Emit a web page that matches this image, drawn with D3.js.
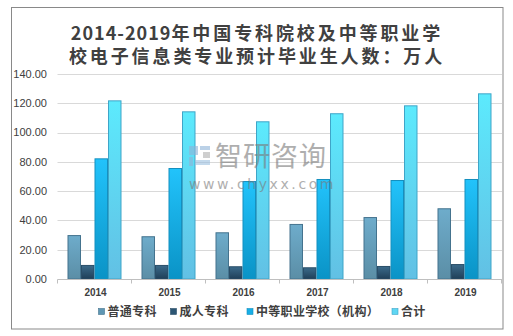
<!DOCTYPE html>
<html><head><meta charset="utf-8">
<script src="https://cdn.jsdelivr.net/npm/d3@7/dist/d3.min.js"></script>
<style>body{margin:0;background:#fff}svg{display:block}</style>
</head><body>
<svg id="c" width="513" height="336"></svg>
<script>
const years = ["2014","2015","2016","2017","2018","2019"];
const seriesNames = ["普通专科","成人专科","中等职业学校（机构）","合计"];
const putong = [30.0, 29.2, 31.9, 37.6, 42.3, 48.3];
const chengren = [9.6, 9.6, 8.7, 8.0, 8.9, 10.2];
const zhongzhi = [82.4, 75.8, 66.9, 68.3, 67.6, 68.3];
const heji = [122.0, 114.5, 107.7, 113.2, 118.6, 126.8];
const yTicks = [0,20,40,60,80,100,120,140];
const titleLine1Head = "2014-2019";
const titleLine1Tail = "年中国专科院校及中等职业学";
const titleLine2 = "校电子信息类专业预计毕业生人数：万人";

const seriesValues = [putong, chengren, zhongzhi, heji];
const grads = [
  ["#6eaccb","#5b8ea6","#44738e"],
  ["#3b6a8a","#1f3f58","#2a4e68"],
  ["#22c3fb","#0a93c6","#1590bf"],
  ["#5ceafd","#62c0e4","#3fa5c8"]
];
const legendColors = ["#5f97b4","#2c5674","#17aee6","#5fd6f3"];

const svg = d3.select("#c");
const font = "'Liberation Sans', 'Noto Sans CJK SC', sans-serif";

svg.append("rect").attr("x",11.5).attr("y",7.5).attr("width",491.5).attr("height",321.5)
  .attr("fill","none").attr("stroke","#898989").attr("stroke-width",1);

const defs = svg.append("defs");
grads.forEach((g,i)=>{
  const lg = defs.append("linearGradient").attr("id","g"+i).attr("x1",0).attr("y1",0).attr("x2",0).attr("y2",1);
  lg.append("stop").attr("offset","0%").attr("stop-color",g[0]);
  lg.append("stop").attr("offset","100%").attr("stop-color",g[1]);
});

const x0 = d3.scaleBand().domain(years).range([57.5, 501.5]).padding(0);
const x1 = d3.scaleBand().domain(d3.range(4)).range([10, 64]).padding(0);
const y = d3.scaleLinear().domain([0,140]).range([279, 74]);

svg.append("g").selectAll("line").data(yTicks.filter(d=>d>0)).join("line")
  .attr("x1",57.5).attr("x2",502).attr("y1",d=>Math.round(y(d))+0.5).attr("y2",d=>Math.round(y(d))+0.5)
  .attr("stroke","#d9d9d9").attr("stroke-width",1);

svg.append("g").selectAll("text").data(yTicks).join("text")
  .attr("x",47).attr("y",d=>y(d)).attr("dy","0.35em").attr("text-anchor","end")
  .attr("font-family",font).attr("font-size",11).attr("fill","#404040")
  .text(d=>d.toFixed(2));

const groups = svg.append("g").selectAll("g").data(years).join("g")
  .attr("transform",d=>`translate(${x0(d)},0)`);
groups.selectAll("rect").data((d,i)=>seriesValues.map((s,k)=>({k,v:s[i]}))).join("rect")
  .attr("x",d=>x1(d.k)+0.5).attr("y",d=>y(d.v)+0.5)
  .attr("width",x1.bandwidth()-1).attr("height",d=>y(0)-y(d.v)-0.5)
  .attr("fill",d=>`url(#g${d.k})`).attr("stroke",d=>grads[d.k][2]).attr("stroke-width",1);

svg.append("line").attr("x1",57.5).attr("x2",502).attr("y1",279.5).attr("y2",279.5)
  .attr("stroke","#bfbfbf");
svg.append("g").selectAll("line").data(d3.range(years.length+1)).join("line")
  .attr("x1",i=>57.5+i*x0.bandwidth()).attr("x2",i=>57.5+i*x0.bandwidth())
  .attr("y1",279.5).attr("y2",283.5).attr("stroke","#bfbfbf");
svg.append("g").selectAll("text").data(years).join("text")
  .attr("x",d=>x0(d)+x0.bandwidth()/2+1).attr("y",296).attr("text-anchor","middle")
  .attr("font-family",font).attr("font-size",10).attr("font-weight","bold").attr("fill","#404040")
  .text(d=>d);

// watermark (on top, semi-transparent)
const wm = svg.append("g").attr("opacity",0.6);
wm.append("rect").attr("x",189).attr("y",146).attr("width",9).attr("height",9).attr("fill","#8fb4d8");
wm.append("rect").attr("x",200).attr("y",146).attr("width",10).attr("height",4).attr("fill","#8fb4d8");
wm.append("rect").attr("x",189).attr("y",157).attr("width",4).attr("height",9).attr("fill","#8fb4d8");
wm.append("rect").attr("x",195).attr("y",160).attr("width",15).attr("height",5).attr("fill","#9cc0e0");
wm.append("rect").attr("x",203).attr("y",152).attr("width",7).attr("height",6).attr("fill","#b0b0b0");
wm.append("text").attr("x",215).attr("y",166).attr("font-family","'Noto Sans CJK SC', sans-serif")
  .attr("font-size",27).attr("fill","#7a7a7a").attr("letter-spacing",1).text("智研咨询");
wm.append("text").attr("x",189).attr("y",189).attr("font-family","'DejaVu Sans', sans-serif")
  .attr("font-size",14).attr("fill","#7a7a7a").attr("letter-spacing",2.6).text("www.chyxx.com");

// title
const tg = svg.append("g").attr("font-family","'Noto Sans CJK SC', sans-serif").attr("font-size",18)
  .attr("font-weight","bold").attr("fill","#404040").attr("text-anchor","middle");
const t1 = tg.append("text").attr("x",257).attr("y",40);
t1.append("tspan").attr("letter-spacing",1).text(titleLine1Head);
t1.append("tspan").attr("letter-spacing",2.9).text(titleLine1Tail);
tg.append("text").attr("x",257).attr("y",63).attr("letter-spacing",2.9).text(titleLine2);

const legX = [98, 170, 246.5, 391.5];
const leg = svg.append("g").selectAll("g").data(seriesNames).join("g")
  .attr("transform",(d,i)=>`translate(${legX[i]},0)`);
leg.append("rect").attr("x",0.5).attr("y",308.5).attr("width",6).attr("height",6)
  .attr("fill",(d,i)=>legendColors[i]).attr("stroke",(d,i)=>grads[i][2]).attr("stroke-width",0.6);
leg.append("text").attr("x",9.5).attr("y",316).attr("font-family","'Noto Sans CJK SC', sans-serif")
  .attr("font-size",12).attr("font-weight","bold").attr("fill","#404040").attr("letter-spacing",0.3)
  .text(d=>d);
</script>
</body></html>
